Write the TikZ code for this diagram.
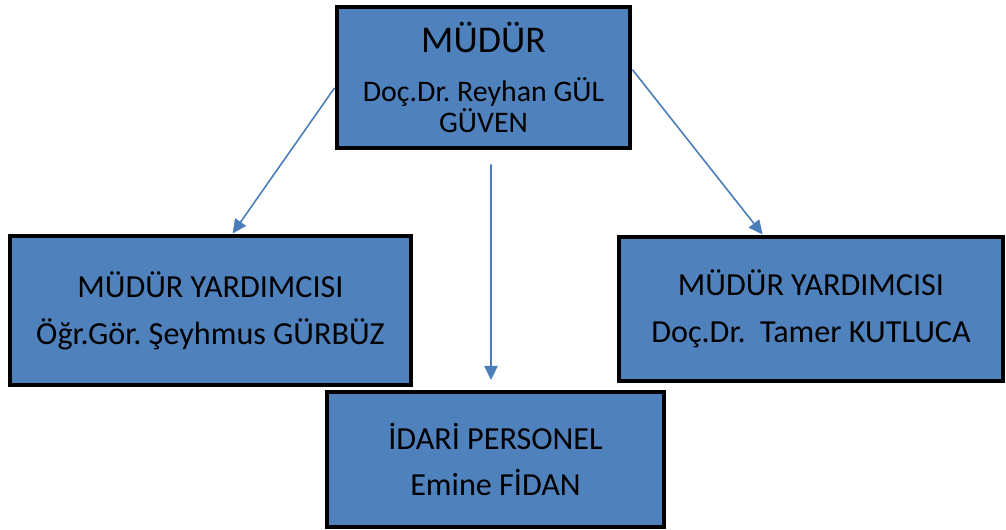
\documentclass[tikz,border=0pt]{standalone}
\usepackage{fontspec}
\setmainfont{Carlito}
\frenchspacing
\usetikzlibrary{arrows.meta, positioning, calc}
\definecolor{boxblue}{HTML}{4F81BD}
\definecolor{linkblue}{HTML}{4A7EBB}
\tikzset{
  unit/.style={
    rectangle, draw=black, line width=2.8pt, fill=boxblue,
    align=center, text=black, inner sep=0pt,
    font=\fontsize{18.3}{26.7}\selectfont
  },
  arrowblue/.style={-{Triangle[length=8pt, width=7.5pt]}, line width=0.9pt, color=linkblue}
}
\begin{document}
\begin{tikzpicture}
  \useasboundingbox (0,0) rectangle (20.12,10.6);
  \node[unit, minimum width=5.86cm, minimum height=2.82cm,
    font=\fontsize{17}{17.6}\selectfont] (mudur) at (9.67,9.05)
    {{\fontsize{21.5}{21.5}\selectfont MÜDÜR}\\[10pt]
     Doç.Dr. Reyhan GÜL\\GÜVEN};
  \node[unit, minimum width=8.02cm, minimum height=2.98cm] (yard1) at (4.21,4.39)
    {MÜDÜR YARDIMCISI\\Öğr.Gör. Şeyhmus GÜRBÜZ};
  \node[unit, minimum width=7.68cm, minimum height=2.88cm] (yard2) at (16.22,4.42)
    {MÜDÜR YARDIMCISI\\Doç.Dr.\ \ Tamer KUTLUCA};
  \node[unit, minimum width=6.74cm, minimum height=2.70cm] (idari) at (9.91,1.41)
    {İDARİ PERSONEL\\Emine FİDAN};

  \draw[arrowblue] (mudur.184) -- (yard1.74);
  \draw[arrowblue] ([xshift=0.15cm, yshift=-0.28cm]mudur.south) --
    ([xshift=-0.09cm, yshift=0.19cm]idari.north);
  \draw[arrowblue] (mudur.3) -- (yard2.123.5);
\end{tikzpicture}
\end{document}
